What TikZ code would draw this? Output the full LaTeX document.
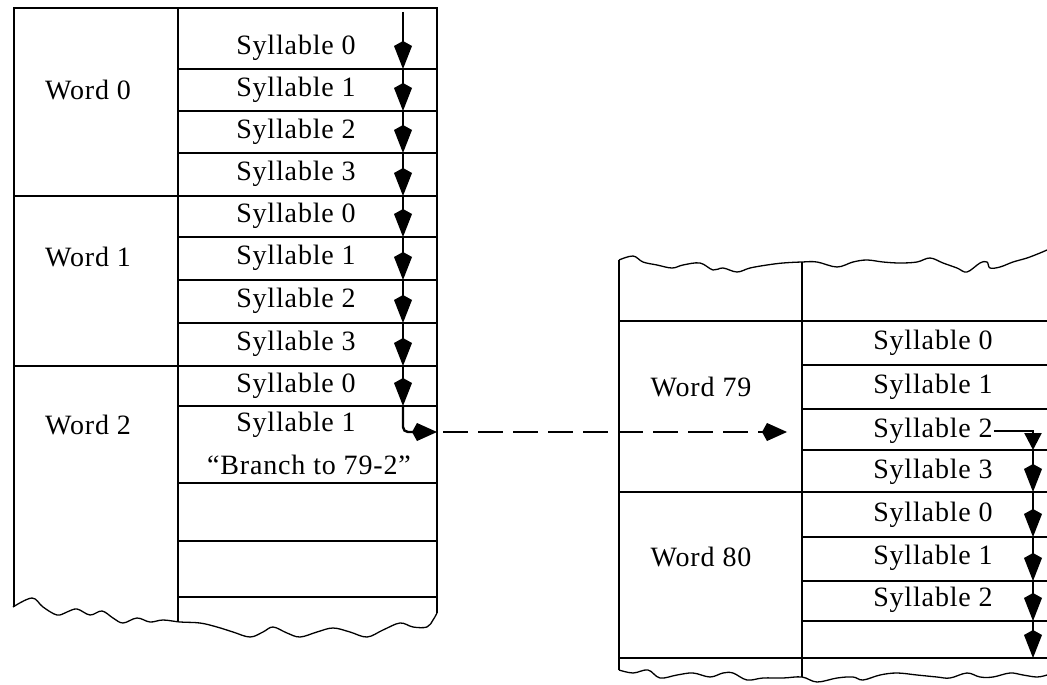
\documentclass[tikz,border=0pt]{standalone}
\usepackage{fontspec}
\setmainfont{Liberation Serif}[LetterSpace=3]
\usetikzlibrary{arrows.meta}

\begin{document}
\begin{tikzpicture}[
    x=1pt, y=-1pt,
    % --- line styles ---
    rule/.style={line width=1.4pt},
    torn/.style={line width=1.3pt, line join=round},
    % --- text ---
    cell/.style={font=\fontsize{28}{32}\selectfont, inner sep=1pt},
    % --- arrow styles ---
    flow/.style={-{Kite[length=28pt, width=18pt, inset=5pt]}, line width=2.4pt},
    jump/.style={-{Kite[length=25pt, width=18pt, inset=5pt]}, line width=2.4pt, rounded corners=5pt},
    jumpdash/.style={jump, dash pattern=on 25pt off 10pt},
    turn/.style={-{Triangle[length=17pt, width=17pt]}, line width=2.4pt},
  ]
    \useasboundingbox (0,0) rectangle (1047,685);

    % ===================== LEFT TABLE =====================
    \draw[rule] (14,607) -- (14,8) -- (437,8) -- (437,613);
    \draw[rule] (178,8) -- (178,622);
    \draw[rule] (14,196) -- (437,196);
    \draw[rule] (14,366) -- (437,366);
    \draw[rule] (178,69) -- (437,69);
    \draw[rule] (178,111) -- (437,111);
    \draw[rule] (178,153) -- (437,153);
    \draw[rule] (178,237) -- (437,237);
    \draw[rule] (178,280) -- (437,280);
    \draw[rule] (178,323) -- (437,323);
    \draw[rule] (178,406) -- (437,406);
    \draw[rule] (178,483) -- (437,483);
    \draw[rule] (178,541) -- (437,541);
    \draw[rule] (178,597) -- (437,597);

    % torn bottom edge
    \draw[torn] plot[smooth, tension=0.6] coordinates {
      (13,607) (32,598) (43,607) (57,615) (67,612) (77,609) (90,615)
      (102,611) (113,618) (123,623) (137,618) (150,622) (163,620)
      (180,622) (200,623) (217,627) (233,632) (250,637) (263,632)
      (273,627) (287,633) (300,637) (317,632) (333,628) (350,632)
      (367,637) (383,630) (400,623) (413,627) (427,627) (433,620) (437,613)};

    \node[cell] (w0) at (88,90)  {Word 0};
    \node[cell] (w1) at (88,257) {Word 1};
    \node[cell] (w2) at (88,425) {Word 2};

    \node[cell] (s00) at (296,48)  {Syllable 0};
    \node[cell] (s01) at (296,90)  {Syllable 1};
    \node[cell] (s02) at (296,132) {Syllable 2};
    \node[cell] (s03) at (296,174) {Syllable 3};
    \node[cell] (s10) at (296,216) {Syllable 0};
    \node[cell] (s11) at (296,258) {Syllable 1};
    \node[cell] (s12) at (296,301) {Syllable 2};
    \node[cell] (s13) at (296,344) {Syllable 3};
    \node[cell] (s20) at (296,386) {Syllable 0};
    \node[cell] (s21) at (296,425) {Syllable 1};
    \node[cell] (br)  at (309,465) {``Branch to 79-2''};

    % ===================== RIGHT TABLE =====================
    \draw[rule] (619,670) -- (619,260);
    \draw[rule] (802,677) -- (802,262);
    \draw[rule] (619,321) -- (1047,321);
    \draw[rule] (619,492) -- (1047,492);
    \draw[rule] (619,658) -- (1047,658);
    \draw[rule] (802,365) -- (1047,365);
    \draw[rule] (802,409) -- (1047,409);
    \draw[rule] (802,450) -- (1047,450);
    \draw[rule] (802,537) -- (1047,537);
    \draw[rule] (802,581) -- (1047,581);
    \draw[rule] (802,621) -- (1047,621);

    % torn top and bottom edges
    \draw[torn] plot[smooth, tension=0.6] coordinates {
      (619,260) (633,256) (643,262) (657,265) (672,268) (683,265)
      (700,263) (713,270) (723,268) (737,272) (750,268) (767,265)
      (783,263) (802,262) (817,262) (837,267) (853,262) (867,260)
      (883,262) (900,263) (917,262) (930,258) (943,263) (957,268)
      (967,272) (980,263) (987,262) (990,268) (1000,267) (1013,262)
      (1027,258) (1040,253) (1047,250)};
    \draw[torn] plot[smooth, tension=0.6] coordinates {
      (619,670) (633,673) (648,670) (660,678) (677,675) (693,673)
      (710,677) (723,673) (733,673) (747,680) (763,678) (783,678)
      (802,677) (817,682) (837,678) (853,677) (863,680) (880,675)
      (897,673) (917,675) (937,677) (950,678) (967,673) (980,677)
      (993,677) (1010,673) (1023,675) (1037,677) (1047,675)};

    \node[cell] (w79) at (701,387) {Word 79};
    \node[cell] (w80) at (701,557) {Word 80};

    \node[cell] (s790) at (933,343) {Syllable 0};
    \node[cell] (s791) at (933,387) {Syllable 1};
    \node[cell] (s792) at (933,431) {Syllable 2};
    \node[cell] (s793) at (933,472) {Syllable 3};
    \node[cell] (s800) at (933,515) {Syllable 0};
    \node[cell] (s801) at (933,558) {Syllable 1};
    \node[cell] (s802) at (933,600) {Syllable 2};

    % ===================== ARROW POINTS =====================
    \coordinate (a0) at (403,12);
    \coordinate (a1) at (403,69);
    \coordinate (a2) at (403,111);
    \coordinate (a3) at (403,153);
    \coordinate (a4) at (403,196);
    \coordinate (a5) at (403,237);
    \coordinate (a6) at (403,280);
    \coordinate (a7) at (403,323);
    \coordinate (a8) at (403,366);
    \coordinate (a9) at (403,406);
    \coordinate (out) at (437,432);
    \coordinate (gap) at (443,432);
    \coordinate (in)  at (787,432);

    \coordinate (b0) at (1033,450);
    \coordinate (b1) at (1033,492);
    \coordinate (b2) at (1033,537);
    \coordinate (b3) at (1033,581);
    \coordinate (b4) at (1033,621);
    \coordinate (b5) at (1033,658);

    % ===================== ARROWS: SEQUENCE =====================
    \draw[flow] (a0) -- (a1);
    \draw[flow] (a1) -- (a2);
    \draw[flow] (a2) -- (a3);
    \draw[flow] (a3) -- (a4);
    \draw[flow] (a4) -- (a5);
    \draw[flow] (a5) -- (a6);
    \draw[flow] (a6) -- (a7);
    \draw[flow] (a7) -- (a8);
    \draw[flow] (a8) -- (a9);

    % branch out of word 2
    \draw[jump] (a9) |- (out);
    \draw[jumpdash] (gap) -- (in);

    % continue from 79-2
    \draw[turn] (s792.east) -| (b0);
    \draw[flow] (b0) -- (b1);
    \draw[flow] (b1) -- (b2);
    \draw[flow] (b2) -- (b3);
    \draw[flow] (b3) -- (b4);
    \draw[flow] (b4) -- (b5);

  \end{tikzpicture}
\end{document}
